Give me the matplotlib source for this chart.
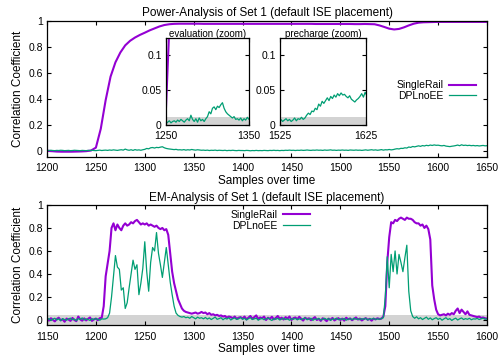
import numpy as np
import matplotlib
matplotlib.use("Agg")
import matplotlib.pyplot as plt

plt.rcParams['font.family'] = ['Liberation Sans', 'DejaVu Sans']

PURPLE = '#9400d3'
GREEN = '#009e73'
GRAY = '#d3d3d3'

# ---- Power analysis (top) ----
pow_single_start, pow_single_step = 1200, 5
pow_single = [
    0.002, -0.002, -0.005, -0.006, -0.006, -0.006, -0.005, -0.004, -0.002, 0.003,
    0.025, 0.17, 0.39, 0.57, 0.68, 0.755, 0.81, 0.845, 0.87, 0.89,
    0.907, 0.925, 0.94, 0.955, 0.966, 0.972, 0.975, 0.976, 0.976, 0.976,
    0.976, 0.976, 0.975, 0.975, 0.975, 0.975, 0.975, 0.975, 0.975, 0.975,
    0.975, 0.975, 0.975, 0.975, 0.975, 0.975, 0.975, 0.975, 0.975, 0.975,
    0.975, 0.975, 0.975, 0.975, 0.975, 0.974, 0.974, 0.974, 0.974, 0.974,
    0.974, 0.974, 0.974, 0.973, 0.973, 0.974, 0.973, 0.972, 0.963, 0.951,
    0.938, 0.932, 0.936, 0.948, 0.963, 0.976, 0.984, 0.987, 0.988, 0.989,
    0.99, 0.99, 0.99, 0.99, 0.99, 0.99, 0.99, 0.99, 0.99, 0.99, 0.99,
]

pow_dpl_start, pow_dpl_step = 1200, 2
pow_dpl = [
    0.004, 0.003, 0.005, 0.003, 0.002, 0.004, 0.003, 0.005, 0.004, 0.002,
    0.003, 0.004, 0.002, 0.003, 0.005, 0.004, 0.003, 0.002, 0.004, 0.003,
    0.002, 0.004, 0.003, 0.005, 0.003, 0.002, 0.004, 0.006, 0.003, 0.005,
    0.006, 0.004, 0.007, 0.005, 0.008, 0.006, 0.004, 0.007, 0.009, 0.006,
    0.014, 0.008, 0.005, 0.009, 0.004, 0.010, 0.006, 0.008, 0.005, 0.009,
    0.012, 0.019, 0.016, 0.024, 0.026, 0.022, 0.027, 0.025, 0.029, 0.032,
    0.024, 0.019, 0.016, 0.014, 0.012, 0.010, 0.012, 0.008, 0.009, 0.007,
    0.010, 0.006, 0.009, 0.007, 0.011, 0.008, 0.006, 0.009, 0.007, 0.005,
    0.006, 0.004, 0.006, 0.003, 0.005, 0.004, 0.006, 0.003, 0.005, 0.004,
    0.003, 0.005, 0.002, 0.004, 0.003, 0.005, 0.003, 0.002, 0.004, 0.003,
    0.003, 0.002, 0.004, 0.003, 0.001, 0.003, 0.002, 0.004, 0.002, 0.003,
    0.002, 0.004, 0.003, 0.002, 0.004, 0.003, 0.005, 0.003, 0.004, 0.002,
    0.004, 0.003, 0.005, 0.004, 0.006, 0.004, 0.005, 0.003, 0.005, 0.004,
    0.006, 0.004, 0.005, 0.007, 0.005, 0.004, 0.006, 0.005, 0.007, 0.005,
    0.006, 0.004, 0.007, 0.005, 0.006, 0.008, 0.005, 0.006, 0.004, 0.006,
    0.005, 0.007, 0.005, 0.006, 0.004, 0.007, 0.006, 0.005, 0.007, 0.005,
    0.006, 0.004, 0.006, 0.008, 0.005, 0.007, 0.009, 0.006, 0.008, 0.005,
    0.007, 0.010, 0.006, 0.009, 0.008, 0.011, 0.008, 0.010, 0.014, 0.017,
    0.015, 0.020, 0.019, 0.024, 0.022, 0.030, 0.027, 0.034, 0.031, 0.035,
    0.039, 0.035, 0.041, 0.038, 0.043, 0.040, 0.045, 0.042, 0.046, 0.043,
    0.044, 0.041, 0.039, 0.042, 0.037, 0.035, 0.033, 0.036, 0.038, 0.041,
    0.045, 0.040, 0.047, 0.042, 0.044, 0.041, 0.043, 0.040, 0.042, 0.039,
    0.041, 0.038, 0.040, 0.042, 0.039, 0.040,
]
pow_threshold = 0.0115

# ---- EM analysis (bottom) ----
em_start, em_step = 1150, 2
em_single = [
    0.01, -0.005, 0.015, 0.002, -0.012, 0.008, 0.02, -0.003, 0.006, -0.015,
    0.012, 0.004, -0.008, 0.018, 0.0, -0.01, 0.03, 0.005, -0.006, 0.014,
    -0.004, 0.01, 0.022, -0.008, 0.006, 0.012, -0.002, 0.016, 0.02, 0.12,
    0.38, 0.49, 0.6, 0.8, 0.84, 0.78, 0.83, 0.8, 0.78, 0.82,
    0.84, 0.82, 0.83, 0.85, 0.84, 0.86, 0.87, 0.85, 0.83, 0.84,
    0.83, 0.84, 0.82, 0.83, 0.82, 0.81, 0.82, 0.80, 0.79, 0.80,
    0.78, 0.79, 0.74, 0.58, 0.42, 0.32, 0.25, 0.18, 0.14, 0.10,
    0.08, 0.07, 0.065, 0.06, 0.055, 0.06, 0.065, 0.055, 0.06, 0.07,
    0.06, 0.065, 0.05, 0.06, 0.045, 0.05, 0.04, 0.045, 0.035, 0.04,
    0.03, 0.035, 0.02, 0.03, 0.025, 0.015, 0.03, 0.01, 0.02, 0.025,
    0.012, 0.03, 0.005, 0.02, 0.035, 0.01, 0.025, 0.04, 0.008, 0.022,
    0.015, 0.03, 0.0, 0.02, 0.01, 0.028, 0.005, 0.018, 0.035, 0.01,
    0.02, 0.004, 0.025, 0.012, 0.03, 0.0, 0.016, 0.022, 0.006, 0.028,
    0.01, -0.005, 0.02, 0.008, 0.015, -0.002, 0.012, 0.025, 0.0, 0.01,
    -0.008, 0.015, 0.005, -0.01, 0.012, 0.002, 0.018, -0.004, 0.008, 0.016,
    0.0, 0.012, -0.006, 0.02, 0.006, 0.014, -0.002, 0.01, 0.022, 0.004,
    0.012, -0.004, 0.008, 0.016, 0.002, 0.01, -0.006, 0.012, 0.005, 0.015,
    0.008, 0.012, 0.03, 0.12, 0.5, 0.72, 0.85, 0.84, 0.87, 0.86,
    0.88, 0.89, 0.88, 0.87, 0.89, 0.88, 0.88, 0.87, 0.85, 0.84,
    0.84, 0.82, 0.83, 0.80, 0.82, 0.79, 0.70, 0.30, 0.18, 0.09,
    0.05, 0.04, 0.045, 0.05, 0.04, 0.055, 0.045, 0.06, 0.05, 0.08,
    0.1, 0.06, 0.09, 0.07, 0.05, 0.075, 0.045, 0.04, 0.035, 0.03,
    0.025, 0.03, 0.018, 0.022, 0.015, 0.012,
]
em_dpl = [
    0.005, 0.012, -0.004, 0.008, 0.015, 0.0, 0.01, -0.006, 0.012, 0.004,
    -0.002, 0.01, 0.016, 0.002, 0.008, -0.005, 0.012, 0.006, 0.018, 0.0,
    0.01, 0.004, -0.004, 0.012, 0.002, 0.014, 0.006, -0.002, 0.01, 0.008,
    0.01, 0.02, 0.06, 0.2, 0.38, 0.56, 0.46, 0.44, 0.26, 0.28,
    0.1, 0.15, 0.28, 0.4, 0.52, 0.44, 0.48, 0.22, 0.32, 0.45,
    0.68, 0.42, 0.25, 0.5, 0.63, 0.6, 0.76, 0.58, 0.48, 0.37,
    0.5, 0.63, 0.48, 0.33, 0.22, 0.12, 0.06, 0.04, 0.03, 0.025,
    0.03, 0.02, 0.025, 0.015, 0.03, 0.02, 0.01, 0.025, 0.015, 0.02,
    0.01, 0.022, 0.008, 0.018, 0.004, 0.015, 0.025, 0.006, 0.012, 0.02,
    0.002, 0.015, 0.008, 0.02, 0.0, 0.012, 0.018, 0.005, 0.01, 0.022,
    0.006, 0.015, 0.0, 0.012, 0.02, 0.004, 0.01, 0.016, -0.002, 0.008,
    0.014, 0.002, 0.01, 0.018, 0.005, -0.004, 0.012, 0.006, 0.015, 0.0,
    0.008, 0.016, 0.004, 0.01, -0.002, 0.012, 0.006, 0.014, 0.002, 0.01,
    0.004, 0.012, 0.018, 0.002, 0.008, 0.015, -0.003, 0.01, 0.005, 0.014,
    0.0, 0.008, 0.015, 0.004, 0.012, -0.004, 0.01, 0.006, 0.016, 0.002,
    0.01, 0.004, 0.014, -0.002, 0.008, 0.012, 0.002, 0.016, 0.006, 0.01,
    0.002, 0.012, 0.006, 0.015, 0.0, 0.01, 0.008, 0.014, 0.004, 0.01,
    0.006, 0.012, 0.02, 0.2, 0.55, 0.28, 0.57, 0.42, 0.6, 0.4,
    0.57, 0.5, 0.42, 0.54, 0.65, 0.25, 0.08, 0.03, 0.015, 0.028,
    0.01, 0.02, 0.004, 0.015, 0.025, 0.006, 0.018, 0.002, 0.012, 0.02,
    0.005, 0.015, -0.002, 0.01, 0.02, 0.004, 0.012, -0.004, 0.008, 0.016,
    0.0, 0.01, 0.018, 0.004, 0.012, 0.006, 0.015, 0.002, 0.01, 0.008,
    0.014, 0.004, 0.01, 0.016, 0.006, 0.01,
]
em_threshold = 0.045

yticks_main = [0, 0.2, 0.4, 0.6, 0.8, 1]
ytick_labels_main = ['0', '0.2', '0.4', '0.6', '0.8', '1']
yticks_zoom = [0, 0.05, 0.1]
ytick_labels_zoom = ['0', '0.05', '0.1']

TICK_FS = 7.5
LABEL_FS = 8.5
LEGEND_FS = 7.5


def xs(start, step, vals):
    return start + step * np.arange(len(vals))


def style(ax):
    ax.tick_params(direction='in', top=True, right=True, length=3,
                   width=0.8, labelsize=TICK_FS)
    ax.tick_params(axis='x', pad=4.5)
    ax.tick_params(axis='y', pad=3)
    for s in ax.spines.values():
        s.set_linewidth(0.9)


fig = plt.figure(figsize=(5, 3.55), dpi=100)

# top panel
ax1 = fig.add_axes([0.094, 0.558, 0.88, 0.384])
ax1.plot(xs(pow_single_start, pow_single_step, pow_single), pow_single,
         color=PURPLE, lw=1.5, label='SingleRail')
ax1.plot(xs(pow_dpl_start, pow_dpl_step, pow_dpl), pow_dpl,
         color=GREEN, lw=0.9, label='DPLnoEE')
ax1.set_xlim(1200, 1650)
ax1.set_ylim(-0.046, 1)
ax1.set_xticks(np.arange(1200, 1651, 50))
ax1.set_yticks(yticks_main, ytick_labels_main)
style(ax1)
ax1.set_title('Power-Analysis of Set 1 (default ISE placement)', fontsize=LABEL_FS, pad=3)
ax1.set_xlabel('Samples over time', fontsize=LABEL_FS, labelpad=1)
ax1.set_ylabel('Correlation Coefficient', fontsize=LABEL_FS, labelpad=3)
ax1.legend(loc='upper right', bbox_to_anchor=(0.975, 0.563), frameon=False,
           markerfirst=False, fontsize=LEGEND_FS, handlelength=2.6,
           borderpad=0, borderaxespad=0, labelspacing=0.05, handletextpad=0.5)

# insets
insets = [
    ([0.332, 0.648, 0.166, 0.245], (1250, 1350), 'evaluation (zoom)'),
    ([0.56, 0.648, 0.172, 0.245], (1525, 1625), 'precharge (zoom)'),
]
for rect, (x0, x1), name in insets:
    ax = fig.add_axes(rect)
    ax.axhspan(0, pow_threshold, color=GRAY, lw=0, zorder=0)
    ax.plot(xs(pow_single_start, pow_single_step, pow_single), pow_single,
            color=PURPLE, lw=1.5)
    ax.plot(xs(pow_dpl_start, pow_dpl_step, pow_dpl), pow_dpl,
            color=GREEN, lw=0.9)
    ax.set_xlim(x0, x1)
    ax.set_ylim(0, 0.125)
    ax.set_xticks([x0, x1])
    ax.set_yticks(yticks_zoom, ytick_labels_zoom)
    style(ax)
    ax.set_title(name, fontsize=7, pad=1)

# bottom panel
ax2 = fig.add_axes([0.094, 0.0837, 0.88, 0.339])
ax2.axhspan(-0.05, em_threshold, color=GRAY, lw=0, zorder=0)
ax2.plot(xs(em_start, em_step, em_single), em_single,
         color=PURPLE, lw=1.5, label='SingleRail')
ax2.plot(xs(em_start, em_step, em_dpl), em_dpl,
         color=GREEN, lw=0.9, label='DPLnoEE')
ax2.set_xlim(1150, 1600)
ax2.set_ylim(-0.046, 1)
ax2.set_xticks(np.arange(1150, 1601, 50))
ax2.set_yticks(yticks_main, ytick_labels_main)
style(ax2)
ax2.set_title('EM-Analysis of Set 1 (default ISE placement)', fontsize=LABEL_FS, pad=3)
ax2.set_xlabel('Samples over time', fontsize=LABEL_FS, labelpad=1)
ax2.set_ylabel('Correlation Coefficient', fontsize=LABEL_FS, labelpad=3)
ax2.legend(loc='upper right', bbox_to_anchor=(0.598, 0.958), frameon=False,
           markerfirst=False, fontsize=LEGEND_FS, handlelength=2.6,
           borderpad=0, borderaxespad=0, labelspacing=0.05, handletextpad=0.5)

fig.savefig('out.png', dpi=100)
